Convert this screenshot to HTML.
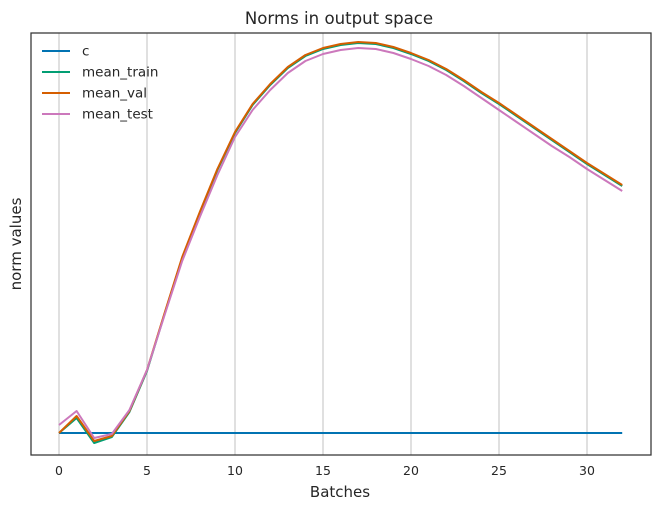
<!DOCTYPE html>
<html><head><meta charset="utf-8"><style>
body{margin:0;background:#fff;font-family:"DejaVu Sans","Liberation Sans",sans-serif}
</style></head><body>
<svg id="chart" width="660" height="510" xmlns="http://www.w3.org/2000/svg" font-family="DejaVu Sans, Liberation Sans, sans-serif">
<rect width="660" height="510" fill="#fff"/>
<text x="339" y="24" text-anchor="middle" font-size="16.6" fill="#262626">Norms in output space</text>
<text x="340" y="497" text-anchor="middle" font-size="15" fill="#262626">Batches</text>
<text transform="translate(21,244) rotate(-90)" text-anchor="middle" font-size="15" fill="#262626">norm values</text>
<g id="grid"></g><g id="ticks"></g><g id="lines"></g>
<rect x="31" y="33" width="620" height="422" fill="none" stroke="#333" stroke-width="1.25"/>
<g id="legend"></g>
</svg>
<script>
const batches=[...Array(33).keys()];
const cVals=batches.map(()=>0);
const trainVals=[0,15,-10,-4,21,62,119,175,220,263,300,328,348,365,377,384,388,390,389,385,379,372,363,352,340,329,317,305,293,281,269,258,247];
const valVals=[0,17,-8,-3,22,63,120,176,221,264,301,329,349,366,378,385,389,391,390,386,380,373,364,353,341,330,318,306,294,282,270,259,248];
const testVals=[8,22,-5,-1,23,63,118,172,216,258,296,323,343,360,372,379,383,385,384,380,374,367,358,347,335,323,311,299,287,276,264,253,242];
const xTicks=[0,5,10,15,20,25,30];
const NS="http://www.w3.org/2000/svg";
const xs=v=>59+v*17.6;
const ys=v=>433-v;
function mk(t,a,p){const e=document.createElementNS(NS,t);for(const k in a)e.setAttribute(k,a[k]);p.appendChild(e);return e;}
const grid=document.getElementById('grid'),ticks=document.getElementById('ticks');
xTicks.forEach(t=>{
 const g=mk('line',{x1:xs(t),x2:xs(t),y1:33,y2:455,stroke:'#cccccc','stroke-width':1.2},grid);
 
 
 const l=mk('text',{x:xs(t),y:475,'text-anchor':'middle','font-size':12.5,fill:'#262626'},ticks);
 l.textContent=t;
 
 
});
const series=[['c',cVals,'#0173b2'],['mean_train',trainVals,'#029e73'],['mean_val',valVals,'#d55e00'],['mean_test',testVals,'#cc78bc']];
const lines=document.getElementById('lines'),leg=document.getElementById('legend');
series.forEach((s,i)=>{
 const p=mk('polyline',{points:s[1].map((v,j)=>xs(batches[j])+','+ys(v)).join(' '),fill:'none',stroke:s[2],'stroke-width':2,'stroke-linejoin':'round'},lines);
 
 
 const y=51+i*21;
 const ll=mk('line',{x1:42,x2:70,y1:y,y2:y,stroke:s[2],'stroke-width':2},leg);
 
 
 const lt=mk('text',{x:82,y:y+4.5,'font-size':13.5,fill:'#262626'},leg);
 lt.textContent=s[0];
 
 
});
</script>
</body></html>
